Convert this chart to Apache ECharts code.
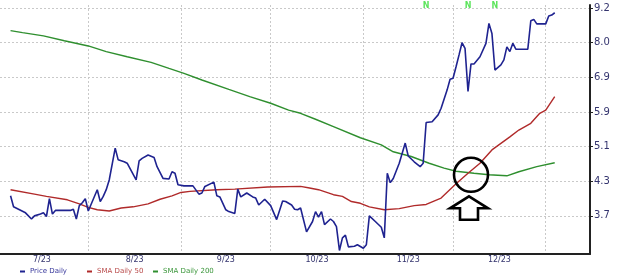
<!DOCTYPE html>
<html><head><meta charset="utf-8">
<script src="https://cdn.jsdelivr.net/npm/echarts@6/dist/echarts.min.js"></script>
<style>html,body{margin:0;padding:0;background:#fff}#c{width:620px;height:279px}</style>
</head><body><div id="c"></div>
<script>
// ---------- data ----------
const yTickLabels = ['3.7','4.3','5.1','5.9','6.9','8.0','9.2'];
const xTickLabels = ['7/23','8/23','9/23','10/23','11/23','12/23'];
const monthStarts = ['2023-07-01','2023-08-01','2023-09-01','2023-10-01','2023-11-01','2023-12-01','2024-01-01'];

const priceDates = [
 '2023-07-06','2023-07-07','2023-07-09','2023-07-11','2023-07-13','2023-07-14','2023-07-16','2023-07-17','2023-07-18','2023-07-19',
 '2023-07-20','2023-07-21','2023-07-24','2023-07-26','2023-07-27','2023-07-28','2023-07-29','2023-07-30','2023-07-31','2023-08-01',
 '2023-08-04','2023-08-05','2023-08-06','2023-08-07','2023-08-08','2023-08-10','2023-08-11','2023-08-13','2023-08-14','2023-08-17',
 '2023-08-18','2023-08-19','2023-08-21','2023-08-23','2023-08-24','2023-08-26','2023-08-28','2023-08-29','2023-08-30','2023-08-31',
 '2023-09-02','2023-09-05','2023-09-07','2023-09-08','2023-09-09','2023-09-12','2023-09-13','2023-09-14','2023-09-16','2023-09-17',
 '2023-09-19','2023-09-20','2023-09-21','2023-09-23','2023-09-25','2023-09-26','2023-09-27','2023-09-29','2023-10-01','2023-10-03',
 '2023-10-05','2023-10-06','2023-10-08','2023-10-09','2023-10-10','2023-10-11','2023-10-13','2023-10-15','2023-10-16','2023-10-17',
 '2023-10-18','2023-10-19','2023-10-21','2023-10-22','2023-10-23','2023-10-24','2023-10-25','2023-10-26','2023-10-27','2023-10-29',
 '2023-10-30','2023-11-01','2023-11-02','2023-11-03','2023-11-05','2023-11-07','2023-11-08','2023-11-09','2023-11-10','2023-11-11',
 '2023-11-13','2023-11-15','2023-11-16','2023-11-18','2023-11-20','2023-11-21','2023-11-22','2023-11-24','2023-11-26','2023-11-27',
 '2023-11-29','2023-11-30','2023-12-01','2023-12-02','2023-12-03','2023-12-04','2023-12-05','2023-12-06','2023-12-07','2023-12-08',
 '2023-12-10','2023-12-12','2023-12-13','2023-12-14','2023-12-15','2023-12-17','2023-12-18','2023-12-19','2023-12-20','2023-12-21',
 '2023-12-22','2023-12-26','2023-12-27','2023-12-28','2023-12-29','2024-01-01','2024-01-02','2024-01-03','2024-01-04'
];
const priceValues = [
 4.04,3.85,3.80,3.75,3.65,3.70,3.73,3.75,3.69,3.99,
 3.73,3.79,3.79,3.79,3.81,3.65,3.87,3.92,3.99,3.78,
 4.15,3.94,4.03,4.15,4.33,4.98,4.73,4.69,4.66,4.33,
 4.71,4.76,4.83,4.78,4.59,4.36,4.35,4.49,4.46,4.24,
 4.22,4.22,4.07,4.09,4.21,4.29,4.04,4.02,3.80,3.77,
 3.74,4.16,4.02,4.09,4.02,4.00,3.88,3.98,3.87,3.64,
 3.95,3.94,3.88,3.81,3.80,3.83,3.45,3.61,3.77,3.68,
 3.77,3.56,3.65,3.61,3.53,3.18,3.36,3.40,3.23,3.24,
 3.26,3.21,3.26,3.70,3.61,3.52,3.36,4.46,4.28,4.36,
 4.66,5.09,4.81,4.69,4.59,4.66,5.57,5.59,5.76,5.93,
 6.42,6.73,6.76,7.11,7.49,7.90,7.71,6.38,7.20,7.20,
 7.43,7.88,8.60,8.23,7.01,7.17,7.33,7.76,7.60,7.88,
 7.68,7.68,8.70,8.75,8.58,8.58,8.88,8.92,9.01
];

const sma50Dates = [
 '2023-07-06','2023-07-14','2023-07-18','2023-07-25','2023-07-29','2023-08-01','2023-08-04','2023-08-08','2023-08-12','2023-08-16',
 '2023-08-21','2023-08-25','2023-08-29','2023-09-01','2023-09-04','2023-09-13','2023-09-19','2023-09-30','2023-10-11','2023-10-14',
 '2023-10-17','2023-10-22','2023-10-25','2023-10-28','2023-10-31','2023-11-03','2023-11-08','2023-11-13','2023-11-18','2023-11-22',
 '2023-11-27','2023-12-02','2023-12-06','2023-12-10','2023-12-14','2023-12-20','2023-12-23','2023-12-27','2023-12-30','2024-01-01',
 '2024-01-04'
];
const sma50Values = [
 4.15,4.07,4.03,3.97,3.90,3.84,3.80,3.78,3.83,3.85,
 3.90,3.98,4.04,4.10,4.12,4.15,4.16,4.20,4.21,4.18,
 4.15,4.06,4.03,3.94,3.91,3.85,3.80,3.82,3.87,3.89,
 4.00,4.26,4.46,4.66,4.94,5.23,5.39,5.55,5.80,5.88,
 6.24
];

const sma200Dates = [
 '2023-07-06','2023-07-10','2023-07-17','2023-07-24','2023-08-01','2023-08-07','2023-08-14','2023-08-22','2023-08-28','2023-09-02',
 '2023-09-08','2023-09-17','2023-09-24','2023-10-01','2023-10-07','2023-10-11','2023-10-16','2023-10-22','2023-10-31','2023-11-07',
 '2023-11-11','2023-11-17','2023-11-23','2023-11-28','2023-12-02','2023-12-08','2023-12-13','2023-12-19','2023-12-23','2023-12-29',
 '2024-01-04'
];
const sma200Values = [
 8.33,8.26,8.14,7.97,7.79,7.60,7.43,7.25,7.06,6.91,
 6.71,6.44,6.24,6.06,5.88,5.80,5.65,5.47,5.21,5.05,
 4.90,4.80,4.66,4.56,4.50,4.46,4.43,4.41,4.49,4.59,
 4.67
];

const newsDates = ['2023-11-22','2023-12-06','2023-12-15'];
const crossoverDate = '2023-12-07';
const crossoverValue = 4.43;

// ---------- helpers ----------
function dayNum(s){ const [y,m,d]=s.split('-').map(Number); return (Date.UTC(y,m-1,d)-Date.UTC(2023,6,1))/864e5; }
const LO = parseFloat(yTickLabels[0]), HI = parseFloat(yTickLabels[yTickLabels.length-1]), NT = yTickLabels.length-1;
function toK(p){ return Math.log(p/LO)/Math.log(HI/LO)*NT; }
function pairs(ds, vs){ return ds.map((d,i)=>[dayNum(d), toK(vs[i])]); }

const monthDays = monthStarts.map(dayNum);
const labelDays = xTickLabels.map((_,i)=>(monthDays[i]+monthDays[i+1])/2);
const yTickVals = yTickLabels.map((_,i)=>i);

const FONT = 'DejaVu Sans';
const C_PRICE = '#1f2390', C_50 = '#b02a2a', C_200 = '#2f8f2f';
const X_MIN = 1.47, X_MAX = 198.8, Y_MIN = -1.1, Y_MAX = 6.086, NEWS_Y = 6.057;

const chart = echarts.init(document.getElementById('c'), null, {renderer:'canvas'});
const gridLine = {show:true, lineStyle:{color:'#c9c9c9', width:1, type:[2,2]}};

const legendBase = {top:268, padding:0, icon:'rect', itemWidth:5, itemHeight:2, itemGap:0,
  textStyle:{fontSize:7, fontFamily:FONT}};

chart.setOption({
  animation:false,
  backgroundColor:'#fff',
  grid:{left:0, right:30, top:5, bottom:25, containLabel:false, outerBoundsMode:'none'},
  xAxis:{
    type:'value', min:X_MIN, max:X_MAX,
    axisLine:{show:true, onZero:false, lineStyle:{color:'#222', width:2}},
    axisTick:{show:false, customValues:monthDays},
    splitLine:gridLine,
    axisLabel:{customValues:labelDays, margin:2, fontSize:8, fontFamily:FONT, color:'#34346e',
      formatter:(v)=>{ const i = labelDays.findIndex(d=>Math.abs(d-v)<0.01); return i>=0?xTickLabels[i]:''; }}
  },
  yAxis:{
    type:'value', position:'right', min:Y_MIN, max:Y_MAX,
    axisLine:{show:true, lineStyle:{color:'#222', width:2}},
    axisTick:{show:true, length:3, customValues:yTickVals, lineStyle:{color:'#222', width:1}},
    splitLine:gridLine,
    axisLabel:{customValues:yTickVals, margin:4, fontSize:10, fontFamily:FONT, color:'#34346e',
      formatter:(v)=>yTickLabels[Math.round(v)]}
  },
  legend:[
    Object.assign({}, legendBase, {left:20, data:['Price Daily'], textStyle:Object.assign({}, legendBase.textStyle, {color:'#35359a'})}),
    Object.assign({}, legendBase, {left:87, data:['SMA Daily 50'], textStyle:Object.assign({}, legendBase.textStyle, {color:'#b84848'})}),
    Object.assign({}, legendBase, {left:153, data:['SMA Daily 200'], textStyle:Object.assign({}, legendBase.textStyle, {color:'#3a963a'})})
  ],
  series:[
    {name:'SMA Daily 200', type:'line', data:pairs(sma200Dates, sma200Values), showSymbol:false, symbol:'none',
      itemStyle:{color:C_200}, lineStyle:{color:C_200, width:1.4}, z:2},
    {name:'SMA Daily 50', type:'line', data:pairs(sma50Dates, sma50Values), showSymbol:false, symbol:'none',
      itemStyle:{color:C_50}, lineStyle:{color:C_50, width:1.4}, z:3},
    {name:'Price Daily', type:'line', data:pairs(priceDates, priceValues), showSymbol:false, symbol:'none',
      itemStyle:{color:C_PRICE}, lineStyle:{color:C_PRICE, width:1.6}, z:4},
    {name:'News', type:'scatter', data:newsDates.map(d=>[dayNum(d), NEWS_Y]), symbolSize:1, silent:true,
      itemStyle:{color:'rgba(0,0,0,0)'}, z:5,
      label:{show:true, position:'inside', formatter:'N', color:'#33dd33', fontSize:8, fontWeight:'bold', fontFamily:FONT}}
  ]
});

const [cx, cy] = chart.convertToPixel({gridIndex:0}, [dayNum(crossoverDate), toK(crossoverValue)]);
const ax = cx - 2;
chart.setOption({
  graphic:[
    {type:'circle', shape:{cx:cx, cy:cy, r:17}, style:{fill:'none', stroke:'#000', lineWidth:2.6}, z:100, silent:true},
    {type:'polygon', shape:{points:[
      [ax, cy+21.5],[ax+19, cy+33.5],[ax+9, cy+33.5],[ax+9, cy+45],[ax-9, cy+45],[ax-9, cy+33.5],[ax-19, cy+33.5]
    ]}, style:{fill:'#fff', stroke:'#000', lineWidth:2.6, lineJoin:'miter'}, z:100, silent:true}
  ]
});
</script></body></html>
